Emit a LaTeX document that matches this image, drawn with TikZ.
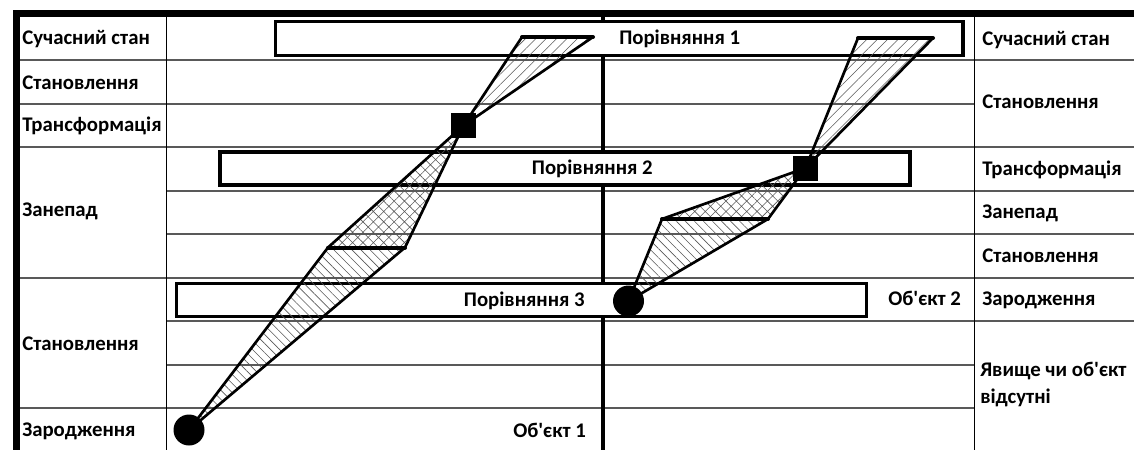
\documentclass[tikz,border=0pt]{standalone}
\usepackage{fontspec}
\setmainfont{Carlito}[Ligatures=TeXOff]
\usetikzlibrary{patterns.meta}
\begin{document}
\begin{tikzpicture}[x=0.75pt,y=-0.75pt,
  gridline/.style={draw=black!65, line width=0.9pt},
  colline/.style={draw=black, line width=1.4pt},
  cmpbox/.style={draw=black, line width=2.3pt, fill=white},
  lbl/.style={font=\fontsize{15.6}{18}\selectfont\bfseries, inner sep=0pt, anchor=base west},
  cmplbl/.style={lbl},
  edgeline/.style={draw=black, line width=2pt, line join=round},
  segline/.style={draw=black, line width=3pt, line cap=round},
  stripesNE/.style={pattern={Lines[angle=45,distance=5.5pt,line width=0.45pt]}, pattern color=black!65},
  stripesNW/.style={pattern={Lines[angle=-45,distance=4.8pt,line width=0.45pt]}, pattern color=black!65},
  crosshatch/.style={pattern={Hatch[angle=45,distance=5.5pt,line width=0.45pt]}, pattern color=black!65},
  dot/.style={circle, fill=black, minimum size=23.25pt, inner sep=0pt},
  sq/.style={rectangle, fill=black, minimum size=18.75pt, inner sep=0pt}
]
\useasboundingbox (0,0) rectangle (1134,450);
\fill[white] (0,0) rectangle (1134,450);

% grid lines
\draw[gridline] (20,60) -- (1134,60);
\draw[gridline] (20,104) -- (974.5,104);
\draw[gridline] (20,147) -- (1134,147);
\draw[gridline] (166.5,191) -- (1134,191);
\draw[gridline] (166.5,234) -- (1134,234);
\draw[gridline] (20,278) -- (1134,278);
\draw[gridline] (166.5,321) -- (1134,321);
\draw[gridline] (166.5,365) -- (974.5,365);
\draw[gridline] (20,408) -- (974.5,408);

% frame
\fill[black] (13,9.5) rectangle (1134,16.5);
\fill[black] (13,9.5) rectangle (20,450);
\draw[colline] (166.5,16.5) -- (166.5,450);
\draw[colline] (974.5,16.5) -- (974.5,450);
\draw[draw=black, line width=3pt] (603,16.5) -- (603,450);

% comparison boxes
\draw[cmpbox] (275.5,21.5) rectangle (963,55.5);
\draw[cmpbox] (220,152) rectangle (910,185);
\draw[cmpbox] (176.5,283.3) rectangle (866.5,316.7);
\node[cmplbl] (p1) at (619,44) {Порівняння 1};
\node[cmplbl, anchor=base east] (p2) at (653,174) {Порівняння 2};
\node[cmplbl, anchor=base east] (p3) at (585,306) {Порівняння 3};

% left column labels
\node[lbl] (l1) at (22,44) {Сучасний стан};
\node[lbl] (l2) at (22,89) {Становлення};
\node[lbl] (l3) at (22,131.5) {Трансформація};
\node[lbl] (l4) at (22,216) {Занепад};
\node[lbl] (l5) at (22,350) {Становлення};
\node[lbl] (l6) at (22,436) {Зародження};

% right column labels
\node[lbl] (r1) at (982,45) {Сучасний стан};
\node[lbl] (r2) at (982,108) {Становлення};
\node[lbl] (r3) at (982,175) {Трансформація};
\node[lbl] (r4) at (982,218) {Занепад};
\node[lbl] (r5) at (982,262.5) {Становлення};
\node[lbl] (r6) at (982,305) {Зародження};
\node[lbl] (r7) at (980,376) {Явище чи об'єкт};
\node[lbl] (r8) at (980,403.5) {відсутні};

\node[lbl] (o1) at (513,437) {Об'єкт 1};
\node[lbl] (o2) at (888,305) {Об'єкт 2};

% object 1 trajectory
\coordinate (c1p) at (189,430);
\coordinate (a1L) at (328,247.5);
\coordinate (a1R) at (405,247.5);
\coordinate (s1p) at (463.5,125.5);
\coordinate (t1L) at (522,37);
\coordinate (t1R) at (593,37);
\path[stripesNW] (c1p) -- (a1L) -- (a1R) -- cycle;
\path[crosshatch] (a1L) -- (s1p) -- (a1R) -- cycle;
\path[stripesNE] (s1p) -- (t1L) -- (t1R) -- cycle;
\draw[edgeline] (a1L) -- (c1p) -- (a1R);
\draw[edgeline] (a1L) -- (s1p) -- (a1R);
\draw[edgeline] (t1L) -- (s1p) -- (t1R);
\draw[segline] (a1L) -- (a1R);
\draw[segline] (t1L) -- (t1R);
\node[dot] (c1) at (c1p) {};
\node[sq] (s1) at (s1p) {};

% object 2 trajectory
\coordinate (c2p) at (628.5,301);
\coordinate (a2L) at (662,219);
\coordinate (a2R) at (768,219);
\coordinate (s2p) at (805.5,168);
\coordinate (t2L) at (858,38);
\coordinate (t2R) at (933,38);
\path[stripesNW] (c2p) -- (a2L) -- (a2R) -- cycle;
\path[crosshatch] (a2L) -- (s2p) -- (a2R) -- cycle;
\path[stripesNE] (s2p) -- (t2L) -- (t2R) -- cycle;
\draw[edgeline] (a2L) -- (c2p) -- (a2R);
\draw[edgeline] (a2L) -- (s2p) -- (a2R);
\draw[edgeline] (t2L) -- (s2p) -- (t2R);
\draw[segline] (a2L) -- (a2R);
\draw[segline] (t2L) -- (t2R);
\node[dot] (c2) at (c2p) {};
\node[sq] (s2) at (s2p) {};
\end{tikzpicture}
\end{document}
